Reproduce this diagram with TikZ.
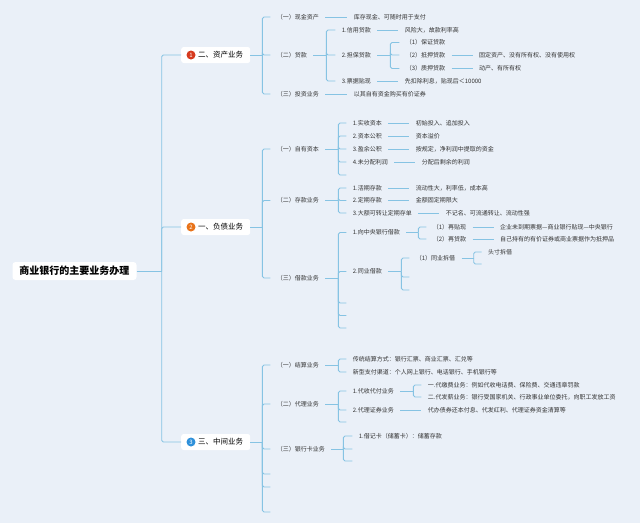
\documentclass[tikz,border=0pt]{standalone}
\usepackage{fontspec}
\setmainfont{Noto Sans CJK SC}
\usetikzlibrary{positioning,calc}
\definecolor{bg}{HTML}{EAF0F8}
\definecolor{ln}{HTML}{86C3E3}
\definecolor{tx}{HTML}{333333}
\definecolor{bred}{HTML}{D63A1E}
\definecolor{bora}{HTML}{E8731A}
\definecolor{bblu}{HTML}{2E90DA}
\begin{document}
\begin{tikzpicture}[x=1pt,y=-1pt,
  conn/.style={draw=ln,line width=0.9pt,rounded corners=1.5pt},
  txt/.style={anchor=west,inner sep=0.5pt,outer sep=6pt,text=tx,font=\fontsize{6}{7}\selectfont},
  rootbox/.style={fill=white,rounded corners=3pt,inner xsep=7pt,minimum height=18pt,text=black,font=\fontsize{10}{12}\selectfont\bfseries},
  lonebox/.style={anchor=west,fill=white,rounded corners=2.5pt,inner xsep=7pt,minimum height=16pt,text=black,font=\fontsize{7.5}{9}\selectfont},
  badge/.style={circle,fill=#1,inner sep=0pt,minimum size=9pt,text=white,font=\fontsize{6}{6}\selectfont}]
\fill[bg] (0,0) rectangle (640,523);
\useasboundingbox (0,0) rectangle (640,523);

% root and level 1
\node[rootbox] (root) at (74.5,271) {商业银行的主要业务办理};
\coordinate (rb) at ($(root.east)+(25,0)$);
\node[lonebox] (n1) at (181,55) {\hspace*{10pt}二、资产业务};
\node[lonebox] (n2) at (181,227) {\hspace*{10pt}一、负债业务};
\node[lonebox] (n3) at (181,442) {\hspace*{10pt}三、中间业务};
\node[badge=bred] (bd1) at ($(n1.west)+(10,0)$) {1};
\node[badge=bora] (bd2) at ($(n2.west)+(10,0)$) {2};
\node[badge=bblu] (bd3) at ($(n3.west)+(10,0)$) {3};
\draw[conn] (root.east) -- (rb);
\foreach \n in {n1,n2,n3} \draw[conn] (rb) |- (\n.west);

% ===== 资产业务 =====
\coordinate (n1b) at ($(n1.east)+(12,0)$);
\coordinate (n1t) at ($(n1b)+(8,0)$);
\node[txt] (a1) at (n1t |- 0,17) {（一）现金资产};
\node[txt] (a2) at (n1t |- 0,55) {（二）贷款};
\node[txt] (a3) at (n1t |- 0,94) {（三）投资业务};
\draw[conn] (n1.east) -- (n1b);
\foreach \c in {a1,a2,a3} \draw[conn] (n1b) |- (\c.west);
\node[txt,right=22pt of a1] (a1x) {库存现金、可随时用于支付};
\node[txt,right=22pt of a3] (a3x) {以其自有资金购买有价证券};
\draw[conn] (a1) -- (a1x); \draw[conn] (a3) -- (a3x);

\coordinate (a2b) at ($(a2.east)+(13,0)$);
\coordinate (a2t) at ($(a2b)+(9,0)$);
\node[txt] (b1) at (a2t |- 0,30) {1.信用贷款};
\node[txt] (b2) at (a2t |- 0,55) {2.担保贷款};
\node[txt] (b3) at (a2t |- 0,81) {3.票据贴现};
\draw[conn] (a2.east) -- (a2b);
\foreach \c in {b1,b2,b3} \draw[conn] (a2b) |- (\c.west);
\node[txt,right=21pt of b1] (b1x) {风险大，故款利率高};
\node[txt,right=21pt of b3] (b3x) {先扣除利息，贴现后＜10000};
\draw[conn] (b1) -- (b1x); \draw[conn] (b3) -- (b3x);

\coordinate (b2b) at ($(b2.east)+(13,0)$);
\coordinate (b2t) at ($(b2b)+(9,0)$);
\node[txt] (c1) at (b2t |- 0,42.5) {（1）保证贷款};
\node[txt] (c2) at (b2t |- 0,55) {（2）抵押贷款};
\node[txt] (c3) at (b2t |- 0,68.5) {（3）质押贷款};
\draw[conn] (b2.east) -- (b2b);
\foreach \c in {c1,c2,c3} \draw[conn] (b2b) |- (\c.west);
\node[txt,right=21pt of c2] (c2x) {固定资产、没有所有权、没有使用权};
\node[txt,right=21pt of c3] (c3x) {动产、有所有权};
\draw[conn] (c2) -- (c2x); \draw[conn] (c3) -- (c3x);

% ===== 负债业务 =====
\coordinate (n2b) at ($(n2.east)+(12,0)$);
\coordinate (n2t) at ($(n2b)+(8,0)$);
\node[txt] (d1) at (n2t |- 0,149) {（一）自有资本};
\node[txt] (d2) at (n2t |- 0,200.5) {（二）存款业务};
\node[txt] (d3) at (n2t |- 0,278) {（三）借款业务};
\draw[conn] (n2.east) -- (n2b);
\foreach \c in {d1,d2,d3} \draw[conn] (n2b) |- (\c.west);

\coordinate (d1b) at ($(d1.east)+(13,0)$);
\coordinate (d1t) at ($(d1b)+(8,0)$);
\node[txt] (e1) at (d1t |- 0,123) {1.实收资本};
\node[txt] (e2) at (d1t |- 0,136) {2.资本公积};
\node[txt] (e3) at (d1t |- 0,149) {3.盈余公积};
\node[txt] (e4) at (d1t |- 0,162) {4.未分配利润};
\coordinate (e5) at (d1t |- 0,175);
\draw[conn] (d1.east) -- (d1b);
\foreach \c in {e1,e2,e3,e4} \draw[conn] (d1b) |- (\c.west);
\draw[conn] (d1b) |- (e5);
\node[txt,right=21pt of e1] (e1x) {初始投入、追加投入};
\node[txt,right=21pt of e2] (e2x) {资本溢价};
\node[txt,right=21pt of e3] (e3x) {按规定，净利润中提取的资金};
\node[txt,right=21pt of e4] (e4x) {分配后剩余的利润};
\foreach \c in {e1,e2,e3,e4} \draw[conn] (\c) -- (\c x);

\coordinate (d2b) at ($(d2.east)+(13,0)$);
\coordinate (d2t) at ($(d2b)+(8,0)$);
\node[txt] (f1) at (d2t |- 0,188) {1.活期存款};
\node[txt] (f2) at (d2t |- 0,200.5) {2.定期存款};
\node[txt] (f3) at (d2t |- 0,213) {3.大额可转让定期存单};
\draw[conn] (d2.east) -- (d2b);
\foreach \c in {f1,f2,f3} \draw[conn] (d2b) |- (\c.west);
\node[txt,right=21pt of f1] (f1x) {流动性大，利率低，成本高};
\node[txt,right=21pt of f2] (f2x) {金额固定期限大};
\node[txt,right=21pt of f3] (f3x) {不记名、可流通转让、流动性强};
\foreach \c in {f1,f2,f3} \draw[conn] (\c) -- (\c x);

\coordinate (d3b) at ($(d3.east)+(13,0)$);
\coordinate (d3t) at ($(d3b)+(8,0)$);
\node[txt] (g1) at (d3t |- 0,232.5) {1.向中央银行借款};
\node[txt] (g2) at (d3t |- 0,271.5) {2.同业借款};
\coordinate (g3) at (d3t |- 0,303);
\coordinate (g4) at (d3t |- 0,315.5);
\coordinate (g5) at (d3t |- 0,328);
\draw[conn] (d3.east) -- (d3b);
\foreach \c in {g1,g2} \draw[conn] (d3b) |- (\c.west);
\foreach \c in {g3,g4,g5} \draw[conn] (d3b) |- (\c);

\coordinate (g1b) at ($(g1.east)+(12,0)$);
\coordinate (g1t) at ($(g1b)+(8,0)$);
\node[txt] (h1) at (g1t |- 0,227) {（1）再贴现};
\node[txt] (h2) at (g1t |- 0,239) {（2）再贷款};
\draw[conn] (g1.east) -- (g1b);
\foreach \c in {h1,h2} \draw[conn] (g1b) |- (\c.west);
\node[txt,right=21pt of h1] (h1x) {企业未到期票据—商业银行贴现—中央银行};
\node[txt,right=21pt of h2] (h2x) {自己持有的有价证券或商业票据作为抵押品};
\foreach \c in {h1,h2} \draw[conn] (\c) -- (\c x);

\coordinate (g2b) at ($(g2.east)+(13,0)$);
\coordinate (g2t) at ($(g2b)+(8,0)$);
\node[txt] (i1) at (g2t |- 0,258) {（1）同业拆借};
\coordinate (i2) at (g2t |- 0,277);
\coordinate (i3) at (g2t |- 0,290);
\draw[conn] (g2.east) -- (g2b);
\draw[conn] (g2b) |- (i1.west);
\foreach \c in {i2,i3} \draw[conn] (g2b) |- (\c);

\coordinate (i1b) at ($(i1.east)+(12,0)$);
\coordinate (i1t) at ($(i1b)+(8,0)$);
\node[txt] (j1) at (i1t |- 0,252) {头寸拆借};
\coordinate (j2) at (i1t |- 0,264);
\draw[conn] (i1.east) -- (i1b);
\draw[conn] (i1b) |- (j1.west);
\draw[conn] (i1b) |- (j2);

% ===== 中间业务 =====
\coordinate (n3b) at ($(n3.east)+(12,0)$);
\coordinate (n3t) at ($(n3b)+(8,0)$);
\node[txt] (k1) at (n3t |- 0,365) {（一）结算业务};
\node[txt] (k2) at (n3t |- 0,404) {（二）代理业务};
\node[txt] (k3) at (n3t |- 0,449) {（三）银行卡业务};
\coordinate (k4) at (n3t |- 0,474);
\coordinate (k5) at (n3t |- 0,487);
\coordinate (k6) at (n3t |- 0,512);
\draw[conn] (n3.east) -- (n3b);
\foreach \c in {k1,k2,k3} \draw[conn] (n3b) |- (\c.west);
\foreach \c in {k4,k5,k6} \draw[conn] (n3b) |- (\c);

\coordinate (k1b) at ($(k1.east)+(13,0)$);
\coordinate (k1t) at ($(k1b)+(8,0)$);
\node[txt] (l1) at (k1t |- 0,359) {传统结算方式：银行汇票、商业汇票、汇兑等};
\node[txt] (l2) at (k1t |- 0,372) {新型支付渠道：个人网上银行、电话银行、手机银行等};
\draw[conn] (k1.east) -- (k1b);
\foreach \c in {l1,l2} \draw[conn] (k1b) |- (\c.west);

\coordinate (k2b) at ($(k2.east)+(13,0)$);
\coordinate (k2t) at ($(k2b)+(8,0)$);
\node[txt] (m1) at (k2t |- 0,391) {1.代收代付业务};
\node[txt] (m2) at (k2t |- 0,410) {2.代理证券业务};
\coordinate (m3) at (k2t |- 0,422);
\draw[conn] (k2.east) -- (k2b);
\foreach \c in {m1,m2} \draw[conn] (k2b) |- (\c.west);
\draw[conn] (k2b) |- (m3);
\node[txt,right=21pt of m2] (m2x) {代办债券还本付息、代发红利、代理证券资金清算等};
\draw[conn] (m2) -- (m2x);

\coordinate (m1b) at ($(m1.east)+(13,0)$);
\coordinate (m1t) at ($(m1b)+(8,0)$);
\node[txt] (o1) at (m1t |- 0,385) {一.代缴费业务：例如代收电话费、保险费、交通违章罚款};
\node[txt] (o2) at (m1t |- 0,397) {二.代发薪业务：银行受国家机关、行政事业单位委托，向职工发放工资};
\draw[conn] (m1.east) -- (m1b);
\foreach \c in {o1,o2} \draw[conn] (m1b) |- (\c.west);

\coordinate (k3b) at ($(k3.east)+(12,0)$);
\coordinate (k3t) at ($(k3b)+(9,0)$);
\node[txt] (p1) at (k3t |- 0,436) {1.借记卡（储蓄卡）：储蓄存款};
\coordinate (p2) at (k3t |- 0,449);
\coordinate (p3) at (k3t |- 0,461);
\draw[conn] (k3.east) -- (k3b);
\draw[conn] (k3b) |- (p1.west);
\foreach \c in {p2,p3} \draw[conn] (k3b) |- (\c);
\end{tikzpicture}
\end{document}
